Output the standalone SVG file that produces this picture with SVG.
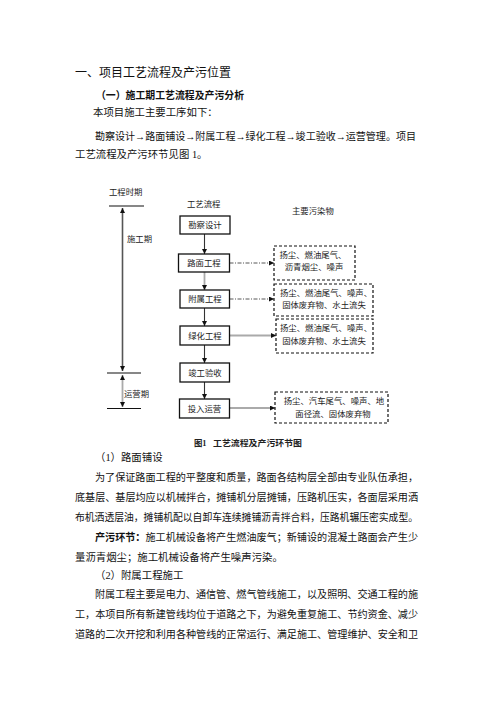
<svg xmlns="http://www.w3.org/2000/svg" width="496" height="702" viewBox="0 0 496 702">
<style>
.t{font-family:"Liberation Serif","Noto Sans CJK SC",serif;font-size:10.4px;fill:#111}
.h{font-family:"Liberation Sans","Noto Sans CJK SC",sans-serif;font-size:12px;fill:#111}
.b{font-weight:bold}
.d{font-family:"Liberation Serif","Noto Sans CJK SC",serif;font-size:8.4px;fill:#222}
.c{text-anchor:middle}
.box{fill:#fff;stroke:#111;stroke-width:1.3}
.pol{fill:#fff;stroke:#111;stroke-width:1.2;stroke-dasharray:3,2}
.ln{stroke:#333;stroke-width:1.1;fill:none}
.gr{stroke:#aaa;stroke-width:1.8;fill:none}
.dd{stroke:#444;stroke-width:0.9;fill:none;stroke-dasharray:4,1.5,1,1.5}
</style>
<defs>
<marker id="ah" viewBox="0 0 10 10" refX="10" refY="5" markerWidth="5" markerHeight="5" markerUnits="userSpaceOnUse" orient="auto">
<path d="M0,0 L10,5 L0,10 z" fill="#111"/>
</marker>
<marker id="ahs" viewBox="0 0 10 10" refX="10" refY="5" markerWidth="5" markerHeight="5" markerUnits="userSpaceOnUse" orient="auto-start-reverse">
<path d="M0,0 L10,5 L0,10 z" fill="#111"/>
</marker>
</defs>

<g id="text-top">
<text class="h" x="75" y="76.5">一、项目工艺流程及产污位置</text>
<text class="t b" x="96" y="99" textLength="148" lengthAdjust="spacingAndGlyphs">（一）施工期工艺流程及产污分析</text>
<text class="t" x="93" y="116">本项目施工主要工序如下：</text>
<text class="t" x="95" y="140" textLength="321" lengthAdjust="spacingAndGlyphs">勘察设计→路面铺设→附属工程→绿化工程→竣工验收→运营管理。项目</text>
<text class="t" x="75" y="158">工艺流程及产污环节见图 1。</text>
</g>

<g id="connectors">
<line class="ln" x1="204.5" y1="234" x2="204.5" y2="254" marker-end="url(#ah)"/>
<line class="gr" x1="204.5" y1="272" x2="204.5" y2="290" marker-end="url(#ah)"/>
<line class="ln" x1="204.5" y1="308" x2="204.5" y2="326" marker-end="url(#ah)"/>
<line class="ln" x1="204.5" y1="345" x2="204.5" y2="363" marker-end="url(#ah)"/>
<line class="ln" x1="204.5" y1="382" x2="204.5" y2="399" marker-end="url(#ah)"/>
<line class="dd" x1="229.5" y1="263" x2="274" y2="263" marker-end="url(#ah)"/>
<line class="dd" x1="229.5" y1="299" x2="274" y2="299" marker-end="url(#ah)"/>
<line class="gr" x1="229.5" y1="335.5" x2="276" y2="335.5" marker-end="url(#ah)"/>
<line class="gr" x1="229.5" y1="408" x2="275" y2="408" marker-end="url(#ah)"/>
<line x1="109" y1="206" x2="144" y2="206" stroke="#111" stroke-width="1.1"/>
<line x1="107" y1="373" x2="141" y2="373" stroke="#111" stroke-width="1.1"/>
<line x1="107" y1="408.5" x2="141" y2="408.5" stroke="#111" stroke-width="1.1"/>
<line x1="122.5" y1="208" x2="122.5" y2="371" stroke="#555" stroke-width="1.6" marker-start="url(#ahs)" marker-end="url(#ah)"/>
<line x1="122.5" y1="375" x2="122.5" y2="407" stroke="#aaa" stroke-width="1.8" marker-start="url(#ahs)" marker-end="url(#ah)"/>
</g>

<g id="timeline-labels">
<text class="d" x="109" y="195">工程时期</text>
<text class="d" x="187" y="207">工艺流程</text>
<text class="d" x="292" y="214">主要污染物</text>
<text class="d" x="127" y="242">施工期</text>
<text class="d" x="124" y="397">运营期</text>
</g>

<g id="n1"><rect class="box" x="180" y="216" width="50" height="18"/><text class="d c" x="205" y="228">勘察设计</text></g>
<g id="n2"><rect class="box" x="178.5" y="254" width="51" height="18"/><text class="d c" x="204" y="266">路面工程</text></g>
<g id="n3"><rect class="box" x="180" y="290" width="49.5" height="18"/><text class="d c" x="205" y="302">附属工程</text></g>
<g id="n4"><rect class="box" x="180" y="326" width="49.5" height="19"/><text class="d c" x="205" y="338.5">绿化工程</text></g>
<g id="n5"><rect class="box" x="180" y="363" width="49.5" height="19"/><text class="d c" x="205" y="375.5">竣工验收</text></g>
<g id="n6"><rect class="box" x="179.5" y="399" width="50" height="19"/><text class="d c" x="204.5" y="411.5">投入运营</text></g>

<g id="p1"><rect class="pol" x="274" y="246" width="81" height="34"/>
<text class="d c" x="313" y="258">扬尘、燃油尾气、</text><text class="d c" x="314" y="269.5">沥青烟尘、噪声</text></g>
<g id="p2"><rect class="pol" x="274" y="284" width="99" height="32"/>
<text class="d c" x="326" y="296">扬尘、燃油尾气、噪声、</text><text class="d c" x="324" y="308">固体废弃物、水土流失</text></g>
<g id="p3"><rect class="pol" x="276" y="319" width="97" height="34"/>
<text class="d c" x="326" y="331">扬尘、燃油尾气、噪声、</text><text class="d c" x="324" y="343.5">固体废弃物、水土流失</text></g>
<g id="p4"><rect class="pol" x="275" y="392" width="113" height="31"/>
<text class="d c" x="334" y="404">扬尘、汽车尾气、噪声、地</text><text class="d c" x="333" y="417">面径流、固体废弃物</text></g>

<g id="caption">
<text class="d b" x="194" y="446">图1</text>
<text class="d b" x="213" y="446" textLength="89" lengthAdjust="spacingAndGlyphs">工艺流程及产污环节图</text>
</g>

<g id="text-body">
<text class="t" x="95" y="461">（1）路面铺设</text>
<text class="t" x="95" y="481" textLength="323" lengthAdjust="spacingAndGlyphs">为了保证路面工程的平整度和质量，路面各结构层全部由专业队伍承担，</text>
<text class="t" x="75" y="501" textLength="343" lengthAdjust="spacingAndGlyphs">底基层、基层均应以机械拌合，摊铺机分层摊铺，压路机压实，各面层采用洒</text>
<text class="t" x="75" y="521" textLength="343" lengthAdjust="spacingAndGlyphs">布机洒透层油，摊铺机配以自卸车连续摊铺沥青拌合料，压路机辗压密实成型。</text>
<text class="t" x="95" y="541" textLength="323" lengthAdjust="spacingAndGlyphs"><tspan class="b">产污环节：</tspan>施工机械设备将产生燃油废气；新铺设的混凝土路面会产生少</text>
<text class="t" x="75" y="561">量沥青烟尘；施工机械设备将产生噪声污染。</text>
<text class="t" x="95" y="579">（2）附属工程施工</text>
<text class="t" x="95" y="598" textLength="323" lengthAdjust="spacingAndGlyphs">附属工程主要是电力、通信管、燃气管线施工，以及照明、交通工程的施</text>
<text class="t" x="75" y="618" textLength="343" lengthAdjust="spacingAndGlyphs">工，本项目所有新建管线均位于道路之下，为避免重复施工、节约资金、减少</text>
<text class="t" x="75" y="638" textLength="343" lengthAdjust="spacingAndGlyphs">道路的二次开挖和利用各种管线的正常运行、满足施工、管理维护、安全和卫</text>
</g>
</svg>
